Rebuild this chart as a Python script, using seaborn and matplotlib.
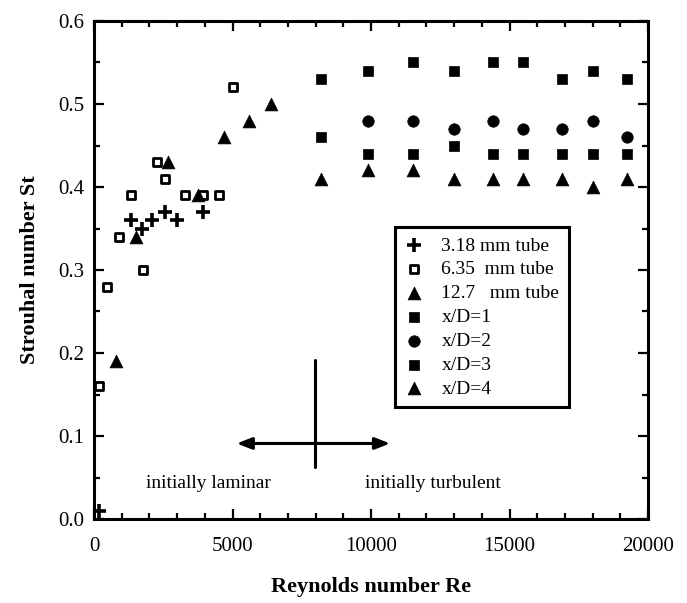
import numpy as np
import pandas as pd
import matplotlib
matplotlib.use("Agg")
import matplotlib.pyplot as plt
import seaborn as sns
from matplotlib.ticker import MultipleLocator, FormatStrFormatter

# ---- data ----
re_318 = [190, 1330, 1720, 2080, 2560, 2990, 3950]
st_318 = [0.01, 0.36, 0.35, 0.36, 0.37, 0.36, 0.37]

re_635 = [190, 460, 910, 1340, 1780, 2260, 2560, 3290, 3920, 4520, 5030]
st_635 = [0.16, 0.28, 0.34, 0.39, 0.30, 0.43, 0.41, 0.39, 0.39, 0.39, 0.52]

re_127 = [790, 1520, 2680, 3770, 4700, 5610, 6390]
st_127 = [0.19, 0.34, 0.43, 0.39, 0.46, 0.48, 0.50]

re_xd1 = [8200, 9900, 11500, 13000, 14400, 15500, 16900, 18000, 19250]
st_xd1 = [0.53, 0.54, 0.55, 0.54, 0.55, 0.55, 0.53, 0.54, 0.53]

re_xd2 = [9900, 11500, 13000, 14400, 15500, 16900, 18000, 19250]
st_xd2 = [0.48, 0.48, 0.47, 0.48, 0.47, 0.47, 0.48, 0.46]

re_xd3 = [8200, 9900, 11500, 13000, 14400, 15500, 16900, 18000, 19250]
st_xd3 = [0.46, 0.44, 0.44, 0.45, 0.44, 0.44, 0.44, 0.44, 0.44]

re_xd4 = [8200, 9900, 11500, 13000, 14400, 15500, 16900, 18000, 19250]
st_xd4 = [0.41, 0.42, 0.42, 0.41, 0.41, 0.41, 0.41, 0.40, 0.41]

labels = ["3.18 mm tube", "6.35  mm tube", "12.7   mm tube",
          "x/D=1", "x/D=2", "x/D=3", "x/D=4"]

sns.set_style("ticks")
plt.rcParams['font.family'] = ['Liberation Serif', 'DejaVu Serif']
plt.rcParams['text.color'] = 'black'
plt.rcParams['axes.labelcolor'] = 'black'
plt.rcParams['xtick.color'] = 'black'
plt.rcParams['ytick.color'] = 'black'

fig = plt.figure(figsize=(6.87, 6.03), dpi=100)
ax = fig.add_axes([94/687, 84/603, 554/687, 498/603])

sns.scatterplot(x=re_318, y=st_318, marker='+', s=95, color='black',
                edgecolor='black', linewidth=2.6, ax=ax, label=labels[0], zorder=3)
sns.scatterplot(x=re_635, y=st_635, marker='s', s=34, color='white',
                edgecolor='black', linewidth=2.0, ax=ax, label=labels[1], zorder=3)
sns.scatterplot(x=re_127, y=st_127, marker='^', s=85, color='black',
                edgecolor='black', linewidth=0.5, ax=ax, label=labels[2], zorder=3)
sns.scatterplot(x=re_xd1, y=st_xd1, marker='s', s=60, color='black',
                edgecolor='black', linewidth=0.5, ax=ax, label=labels[3], zorder=3)
sns.scatterplot(x=re_xd2, y=st_xd2, marker='o', s=68, color='black',
                edgecolor='black', linewidth=0.5, ax=ax, label=labels[4], zorder=3)
sns.scatterplot(x=re_xd3, y=st_xd3, marker='s', s=60, color='black',
                edgecolor='black', linewidth=0.5, ax=ax, label=labels[5], zorder=3)
sns.scatterplot(x=re_xd4, y=st_xd4, marker='^', s=85, color='black',
                edgecolor='black', linewidth=0.5, ax=ax, label=labels[6], zorder=3)

# annotation: transition marker and arrows
ax.plot([7980, 7980], [0.063, 0.192], color='black', lw=2.2)
ax.annotate('', xy=(5150, 0.091), xytext=(10690, 0.091),
            arrowprops=dict(arrowstyle='<|-|>,head_length=0.9,head_width=0.35',
                            color='black', lw=2.2, shrinkA=0, shrinkB=0))
ax.text(4120, 0.043, 'initially laminar', ha='center', va='center', fontsize=14)
ax.text(12250, 0.043, 'initially turbulent', ha='center', va='center', fontsize=14)

ax.set_xlim(0, 20000)
ax.set_ylim(0, 0.6)
ax.xaxis.set_major_locator(MultipleLocator(5000))
ax.xaxis.set_minor_locator(MultipleLocator(1000))
ax.yaxis.set_major_locator(MultipleLocator(0.1))
ax.yaxis.set_minor_locator(MultipleLocator(0.05))
ax.yaxis.set_major_formatter(FormatStrFormatter('%.1f'))
ax.tick_params(which='both', direction='in', top=True, right=True,
               width=1.6, labelsize=15, colors='black')
ax.tick_params(which='major', length=7)
ax.tick_params(which='minor', length=4)
ax.tick_params(axis='x', pad=13)
ax.tick_params(axis='y', pad=7)
for sp in ax.spines.values():
    sp.set_linewidth(2.2)
    sp.set_color('black')

ax.set_xlabel('Reynolds number Re', fontsize=16, fontweight='bold', labelpad=15)
ax.set_ylabel('Strouhal number St', fontsize=16, fontweight='bold', labelpad=13)

leg = ax.legend(loc='upper left', bbox_to_anchor=(0.543, 0.586),
                frameon=True, fancybox=False, edgecolor='black', framealpha=1,
                fontsize=14, labelspacing=0.32, handlelength=1.0,
                handletextpad=0.9, borderpad=0.5, borderaxespad=0)
leg.get_frame().set_linewidth(2.2)
for t in leg.get_texts():
    t.set_color('black')

fig.savefig('out.png', dpi=100)
